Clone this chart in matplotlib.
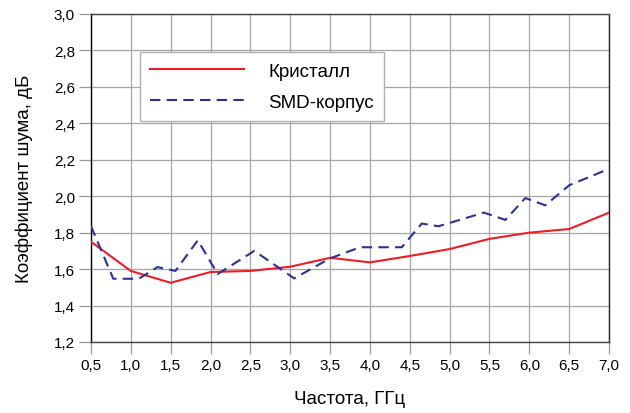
import matplotlib.pyplot as plt
from matplotlib.ticker import FuncFormatter

plt.rcParams['font.family'] = ['Liberation Sans', 'DejaVu Sans']

# Кристалл
freq_chip = [0.5, 1.0, 1.5, 2.0, 2.5, 3.0, 3.5, 4.0, 4.5, 5.0, 5.5, 6.0, 6.5, 7.0]
nf_chip = [1.75, 1.59, 1.525, 1.584, 1.59, 1.613, 1.662, 1.637, 1.672, 1.71, 1.766, 1.80, 1.82, 1.91]

# SMD-корпус
freq_smd = [0.5, 0.78, 1.1, 1.335, 1.56, 1.84, 2.09, 2.55, 3.05, 3.5, 3.875, 4.4,
            4.65, 4.86, 5.43, 5.70, 5.95, 6.2, 6.5, 7.0]
nf_smd = [1.836, 1.547, 1.547, 1.611, 1.59, 1.758, 1.573, 1.70, 1.549, 1.659, 1.72, 1.72,
          1.85, 1.835, 1.91, 1.87, 1.99, 1.95, 2.06, 2.15]

xticks = [0.5, 1.0, 1.5, 2.0, 2.5, 3.0, 3.5, 4.0, 4.5, 5.0, 5.5, 6.0, 6.5, 7.0]
yticks = [1.2, 1.4, 1.6, 1.8, 2.0, 2.2, 2.4, 2.6, 2.8, 3.0]

fig = plt.figure(figsize=(6.3, 4.14), dpi=100)
ax = fig.add_axes([0.1444, 0.1715, 0.8223, 0.7923])

ax.plot(freq_chip, nf_chip, color='#ee1c25', lw=1.5, label='Кристалл', zorder=3)
ax.plot(freq_smd, nf_smd, color='#2e3192', lw=1.5, ls=(0, (5, 3)), label='SMD-корпус', zorder=3)

ax.set_xlim(0.5, 7.0)
ax.set_ylim(1.2, 3.0)
ax.set_xticks(xticks)
ax.set_yticks(yticks)
fmt = FuncFormatter(lambda v, p: f'{v:.1f}'.replace('.', ','))
ax.xaxis.set_major_formatter(fmt)
ax.yaxis.set_major_formatter(fmt)
ax.tick_params(length=8.5, width=0.9, color='#999999', labelsize=11, pad=3)
ax.grid(True, color='#a6a6a6', lw=0.9)

ax.spines['left'].set_color('black')
ax.spines['right'].set_color('#222222')
ax.spines['top'].set_color('#444444')
ax.spines['bottom'].set_color('#444444')
for s in ax.spines.values():
    s.set_linewidth(1.0)

ax.set_xlabel('Частота, ГГц', fontsize=13.5, labelpad=13)
ax.set_ylabel('Коэффициент шума, дБ', fontsize=13.5, labelpad=15)

leg = ax.legend(loc='upper left', bbox_to_anchor=(0.094, 0.883), fontsize=13.5,
                frameon=True, fancybox=False, edgecolor='#b0b0b0', framealpha=1,
                handlelength=5.0, handletextpad=1.3, borderpad=0.55, labelspacing=0.75,
                borderaxespad=0)
leg.get_frame().set_linewidth(1.0)

fig.savefig('out.png', dpi=100)
